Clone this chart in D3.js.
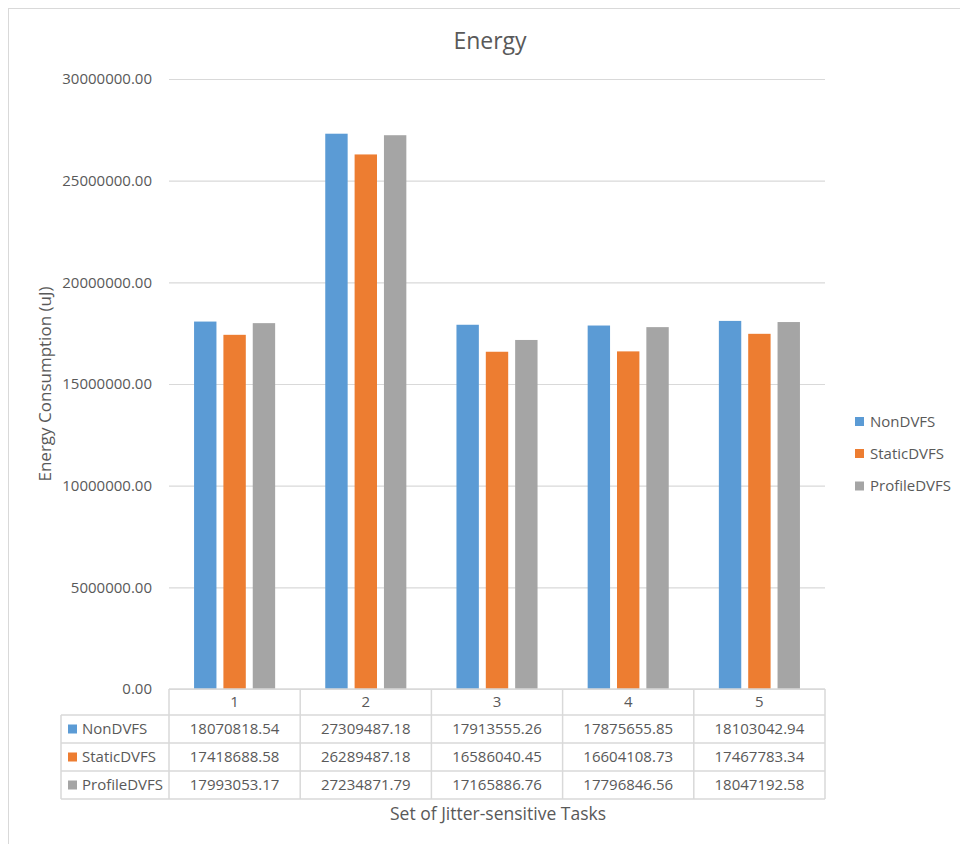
<!DOCTYPE html>
<html>
<head>
<meta charset="utf-8">
<script src="https://cdn.jsdelivr.net/npm/d3@7"></script>
<style>
  html, body { margin: 0; padding: 0; background: #fff; }
  svg { display: block; }
  text { font-family: "Open Sans", "Noto Sans", sans-serif; fill: #595959; }
</style>
</head>
<body>
<svg id="chart" width="960" height="844"></svg>
<script>
// Energy per task set, one array per DVFS policy
const categories = ["1", "2", "3", "4", "5"];
const seriesNames = ["NonDVFS", "StaticDVFS", "ProfileDVFS"];
const nonDVFS     = [18070818.54, 27309487.18, 17913555.26, 17875655.85, 18103042.94];
const staticDVFS  = [17418688.58, 26289487.18, 16586040.45, 16604108.73, 17467783.34];
const profileDVFS = [17993053.17, 27234871.79, 17165886.76, 17796846.56, 18047192.58];
const yTicks = [0, 5000000, 10000000, 15000000, 20000000, 25000000, 30000000];
const seriesColors = ["#5B9BD5", "#ED7D31", "#A5A5A5"];

const seriesValues = [nonDVFS, staticDVFS, profileDVFS];
const svg = d3.select("#chart");
const grid = "#d9d9d9";

// chart frame
svg.append("rect").attr("x", 8.5).attr("y", 8.5).attr("width", 1000).attr("height", 1000)
  .attr("fill", "none").attr("stroke", grid);

const plot = { left: 169, right: 825, top: 79, bottom: 689 };

const x = d3.scaleBand().domain(categories).range([plot.left, plot.right]);
const y = d3.scaleLinear().domain([0, 30000000]).range([plot.bottom, plot.top]);
const groupWidth = x.bandwidth() * 0.618;
const xs = d3.scaleBand().domain(seriesNames).range([0, groupWidth]).paddingInner(0.237);

// title
svg.append("text").attr("x", 490).attr("y", 49).attr("text-anchor", "middle")
  .style("font-size", "23px").text("Energy");

// gridlines + tick labels
const yAxis = d3.axisLeft(y).tickValues(yTicks).tickFormat(d3.format(".2f"))
  .tickSize(-(plot.right - plot.left)).tickPadding(17);
const gy = svg.append("g").attr("transform", `translate(${plot.left},0)`).call(yAxis);
gy.select(".domain").remove();
gy.selectAll(".tick line").attr("stroke", grid).attr("stroke-width", 1.2);
gy.selectAll(".tick text").style("font-size", "15px").attr("fill", "#595959")
  .style("font-family", "'Open Sans', sans-serif");

// bars
const groups = svg.append("g").selectAll("g").data(categories).join("g")
  .attr("transform", c => `translate(${x(c) + (x.bandwidth() - groupWidth) / 2},0)`);
groups.selectAll("rect")
  .data((c, i) => seriesNames.map((s, k) => ({ s, k, v: seriesValues[k][i] })))
  .join("rect")
  .attr("x", d => xs(d.s))
  .attr("width", xs.bandwidth())
  .attr("y", d => y(d.v))
  .attr("height", d => y(0) - y(d.v))
  .attr("fill", d => seriesColors[d.k]);

// data table under the axis
const rowTops = [689, 715, 743, 771, 799];
const labelLeft = 61;
const tbl = svg.append("g");
const line = (x1, y1, x2, y2) => tbl.append("line")
  .attr("x1", x1).attr("y1", y1).attr("x2", x2).attr("y2", y2)
  .attr("stroke", grid).attr("stroke-width", 1.5);

// horizontal rules
line(plot.left, rowTops[0], plot.right, rowTops[0]);
for (let r = 1; r < rowTops.length; r++) line(labelLeft, rowTops[r], plot.right, rowTops[r]);
// vertical rules
line(labelLeft, rowTops[1], labelLeft, rowTops[4]);
categories.forEach(c => line(x(c), rowTops[0], x(c), rowTops[4]));
line(plot.right, rowTops[0], plot.right, rowTops[4]);

// header row: category labels
tbl.selectAll("text.cat").data(categories).join("text").attr("class", "cat")
  .attr("x", c => x(c) + x.bandwidth() / 2)
  .attr("y", (rowTops[0] + rowTops[1]) / 2)
  .attr("dy", "0.35em").attr("text-anchor", "middle")
  .style("font-size", "15px").text(c => c);

// series rows
seriesNames.forEach((s, k) => {
  const cy = (rowTops[k + 1] + rowTops[k + 2]) / 2;
  tbl.append("rect").attr("x", 68).attr("y", cy - 4.5).attr("width", 9).attr("height", 9)
    .attr("fill", seriesColors[k]);
  tbl.append("text").attr("x", 82).attr("y", cy).attr("dy", "0.35em")
    .style("font-size", "15px").text(s);
  tbl.selectAll(null).data(seriesValues[k]).join("text")
    .attr("x", (v, i) => x(categories[i]) + x.bandwidth() / 2)
    .attr("y", cy).attr("dy", "0.35em").attr("text-anchor", "middle")
    .style("font-size", "15px").text(v => d3.format(".2f")(v));
});

// axis titles
svg.append("text").attr("x", 498).attr("y", 820).attr("text-anchor", "middle")
  .style("font-size", "17.5px").text("Set of Jitter-sensitive Tasks");
svg.append("text").attr("transform", "translate(51,384) rotate(-90)")
  .attr("text-anchor", "middle").style("font-size", "17px").text("Energy Consumption (uJ)");

// legend
const legendRows = [421.5, 453.5, 486];
seriesNames.forEach((s, k) => {
  svg.append("rect").attr("x", 855).attr("y", legendRows[k] - 4.5).attr("width", 9).attr("height", 9)
    .attr("fill", seriesColors[k]);
  svg.append("text").attr("x", 870).attr("y", legendRows[k]).attr("dy", "0.35em")
    .style("font-size", "15px").text(s);
});
</script>
</body>
</html>
